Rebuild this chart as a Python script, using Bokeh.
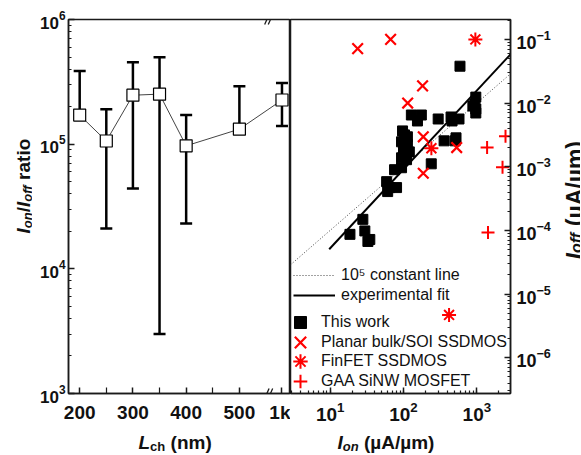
import math
from bokeh.plotting import figure
from bokeh.models import (FixedTicker, LogTicker, Range1d, Label, Legend, LegendItem)
from bokeh.layouts import row, column
from bokeh.embed import file_html
from bokeh.resources import INLINE

FONT = "Liberation Sans"

# ---------------- left panel data : Ion/Ioff ratio vs channel length ----------------
lch_nm = [200, 250, 300, 350, 400, 500, 1000]
ratio = [1.71e5, 1.06e5, 2.47e5, 2.52e5, 9.7e4, 1.32e5, 2.26e5]
ratio_upper = [3.87e5, 1.91e5, 4.54e5, 4.98e5, 1.71e5, 2.92e5, 3.10e5]
ratio_lower = [None, 2.11e4, 4.40e4, 3.0e3, 2.31e4, None, 1.40e5]
lch_ticks = [200, 300, 400, 500, 1000]
lch_tick_labels = ["200", "300", "400", "500", "1k"]
lch_minor_ticks = [250, 350, 450]

# ---------------- right panel data : Ioff vs Ion ----------------
this_work_ion = [589, 968, 940, 968, 883, 968, 128, 175, 155, 297, 445, 459, 571, 358, 520, 505,
                 97, 103, 113, 94, 113, 100, 120, 94, 110, 239, 75.5, 94, 58.9, 64.7, 80.4, 60.8,
                 27.9, 18.6, 29.7, 34.7, 32.7]
this_work_ioff = [0.0379, 0.0124, 0.00964, 0.00806, 0.00897, 0.00698, 0.00649, 0.00649, 0.00523,
                  0.00562, 0.00604, 0.00523, 0.00562, 0.00255, 0.00284, 0.00255, 0.00365, 0.00316,
                  0.00295, 0.00246, 0.00221, 0.00184, 0.00171, 0.00138, 0.00129, 0.00111, 0.000898,
                  0.000964, 0.000583, 0.00047, 0.00047, 0.000407, 0.000149, 8.66e-5, 9.8e-5, 7.2e-5,
                  6.7e-5]
planar_ion = [23.7, 66.7, 182, 114, 186, 531, 186]
planar_ioff = [0.0716, 0.1, 0.0186, 0.01, 0.00295, 0.0020, 7.9e-4]
finfet_ion = [955, 240, 418]
finfet_ioff = [0.1, 0.00195, 4.7e-6]
gaa_ion = [2460, 1380, 2240, 1420]
gaa_ioff = [0.0030, 0.0020, 9.8e-4, 9.3e-5]
fit_ion = [9.7, 2877]
fit_ioff = [5.05e-5, 0.0583]
constant_ratio = 1e5
legend_labels = ["10\u2075 constant line", "experimental fit", "This work",
                 "Planar bulk/SOI SSDMOS", "FinFET SSDMOS", "GAA SiNW MOSFET"]

# ---------------- layout constants (page pixels) ----------------
FRAME_TOP, FRAME_BOTTOM = 19, 395
H_TOP = 425                 # height of the row holding the two panels
H_BOT = 29                  # height of the strip holding the x-axis titles
W_YLAB, W_P1, W_P2, W_RLAB = 32, 258, 263, 27
L_FRAME_LEFT = 68
R_FRAME_LEFT = W_YLAB + W_P1          # 290
R_FRAME_W = 222
BREAK_POS = 580            # axis position used for the 1k point after the break
BREAK_MARK = 555
AXC = "#1a1a1a"
RED = "#ff0000"

def lch_axis(v):
    return v if v <= 500 else BREAK_POS

def style_axis(ax, size="19px"):
    ax.axis_line_color = AXC
    ax.axis_line_width = 1.5
    ax.major_tick_line_color = AXC
    ax.minor_tick_line_color = AXC
    ax.major_tick_line_width = 1.5
    ax.minor_tick_line_width = 1.2
    ax.major_tick_in = 6
    ax.major_tick_out = 0
    ax.minor_tick_in = 3
    ax.minor_tick_out = 0
    ax.major_label_text_font = FONT
    ax.major_label_text_font_style = "bold"
    ax.major_label_text_font_size = size
    ax.major_label_text_color = "#111"
    ax.axis_label = None

def base_fig(width, xr, yr, **kw):
    p = figure(width=width, height=H_TOP, x_range=xr, y_range=yr, output_backend="svg",
               toolbar_location=None, min_border_top=FRAME_TOP,
               min_border_bottom=H_TOP - FRAME_BOTTOM, **kw)
    p.xgrid.grid_line_color = None
    p.ygrid.grid_line_color = None
    p.outline_line_color = AXC
    p.outline_line_width = 1.5
    p.background_fill_color = "white"
    p.border_fill_color = "white"
    return p

def text_fig(width, height):
    p = figure(width=width, height=height, x_range=Range1d(0, 1), y_range=Range1d(0, 1),
               output_backend="svg", toolbar_location=None, x_axis_location=None,
               y_axis_location=None, min_border_left=0, min_border_right=0,
               min_border_top=0, min_border_bottom=0)
    p.xgrid.grid_line_color = None
    p.ygrid.grid_line_color = None
    p.outline_line_color = None
    p.background_fill_color = "white"
    p.border_fill_color = "white"
    return p

AW = {' ': 278, '(': 333, ')': 333, '/': 278, 'A': 722, 'I': 278, 'L': 611, 'a': 556, 'c': 556,
      'f': 333, 'h': 611, 'i': 278, 'm': 889, 'n': 611, 'o': 611, 'r': 389, 't': 333, '\u00b5': 611}

def tw(s, size):
    return sum(AW.get(c, 556) for c in s) * size / 1000.0

def mk_label(p, x, y, text, size, style, angle=0):
    p.add_layout(Label(x=x, y=y, x_units="screen", y_units="screen", text=text,
                       angle=angle, angle_units="deg",
                       text_font=FONT, text_font_size=f"{size}px", text_font_style=style,
                       text_color="#111", text_align="left", text_baseline="alphabetic"))

def split_space(text, size):
    stripped = text.lstrip(" ")
    return stripped, tw(text[:len(text) - len(stripped)], size)

def label_h(p, ox, oy_bottom, x0, base, pieces):
    """horizontal multi-style title; page coords -> figure(ox, bottom oy_bottom)"""
    x = x0
    for text, size, style, dy in pieces:
        t, adv = split_space(text, size)
        x += adv
        mk_label(p, x - ox, oy_bottom - (base + dy), t, size, style)
        x += tw(t, size)

def label_v(p, ox, oy_bottom, basex, y0, pieces):
    """vertical (reading upwards) multi-style title"""
    y = y0
    for text, size, style, dy in pieces:
        t, adv = split_space(text, size)
        y -= adv
        mk_label(p, basex + dy - ox, oy_bottom - y, t, size, style, angle=90)
        y -= tw(t, size)

# ================= left figure =================
p1 = base_fig(W_P1, Range1d(179, 596), Range1d(1e3, 1e6), y_axis_type="log",
              min_border_left=L_FRAME_LEFT - W_YLAB, min_border_right=0)
xs = [lch_axis(v) for v in lch_nm]
p1.line(xs, ratio, line_color="#444", line_width=1)
p1.segment(xs, ratio, xs, ratio_upper, line_color="black", line_width=2.5)
lo_x = [x for x, lo in zip(xs, ratio_lower) if lo is not None]
lo_v = [lo for lo in ratio_lower if lo is not None]
lo_c = [r for r, lo in zip(ratio, ratio_lower) if lo is not None]
p1.segment(lo_x, lo_v, lo_x, lo_c, line_color="black", line_width=2.5)
p1.scatter(xs, ratio_upper, marker="dash", size=12, line_color="black", line_width=2.5)
p1.scatter(lo_x, lo_v, marker="dash", size=12, line_color="black", line_width=2.5)
p1.scatter(xs, ratio, marker="square", size=12, fill_color="white", line_color="black", line_width=1.2)

style_axis(p1.xaxis[0])
p1.xaxis[0].ticker = FixedTicker(ticks=[lch_axis(v) for v in lch_ticks],
                                 minor_ticks=lch_minor_ticks)
p1.xaxis[0].minor_tick_in = 6
p1.xaxis[0].major_label_overrides = {lch_axis(v): t for v, t in zip(lch_ticks, lch_tick_labels)}
p1.xaxis[0].major_label_standoff = 8
style_axis(p1.yaxis[0], size="17px")
p1.yaxis[0].ticker = LogTicker(num_minor_ticks=10)
p1.yaxis[0].major_label_standoff = 3

# axis-break marks "//" on the top and bottom axes
px_x = (596 - 179) / 222
dec_px = 3.0 / (FRAME_BOTTOM - FRAME_TOP)
bx0, bx1, by0, by1 = [], [], [], []
for edge in (1e3, 1e6):
    for off in (-1.8, 1.8):
        bx0.append(BREAK_MARK + (off - 2.2) * px_x)
        bx1.append(BREAK_MARK + (off + 2.2) * px_x)
        by0.append(edge * 10 ** (-5 * dec_px))
        by1.append(edge * 10 ** (5 * dec_px))
p1.segment(bx0, by0, bx1, by1, line_color=AXC, line_width=1.3)

# ================= right figure =================
x_lo, x_hi = 10 ** 0.459, 10 ** 3.459
p2 = base_fig(W_P2, Range1d(x_lo, x_hi), Range1d(10 ** -6.5625, 10 ** -0.6875),
              x_axis_type="log", y_axis_type="log", y_axis_location="right",
              min_border_left=0, min_border_right=W_P2 - R_FRAME_W)

const_ion = [x_lo, x_hi]
const_ioff = [v / constant_ratio for v in const_ion]
r_const = p2.line(const_ion, const_ioff, line_color="#444", line_width=1, line_dash="1 2")
r_fit = p2.line(fit_ion, fit_ioff, line_color="black", line_width=2)
r_this = p2.scatter(this_work_ion, this_work_ioff, marker="square", size=10, color="black")
r_planar = p2.scatter(planar_ion, planar_ioff, marker="x", size=15, line_color=RED, line_width=2.2)
r_fin = p2.scatter(finfet_ion, finfet_ioff, marker="asterisk", size=14, line_color=RED, line_width=2)
r_gaa = p2.scatter(gaa_ion, gaa_ioff, marker="cross", size=13, line_color=RED, line_width=2)

style_axis(p2.xaxis[0])
p2.xaxis[0].ticker = LogTicker(num_minor_ticks=10)
p2.xaxis[0].major_label_standoff = 8
style_axis(p2.yaxis[0], size="18px")
p2.yaxis[0].ticker = LogTicker(num_minor_ticks=10)
p2.yaxis[0].major_label_standoff = 6

def mk_legend(items, loc, gw, gh, standoff):
    lg = Legend(items=items, location=loc, padding=0, margin=0, spacing=0,
                glyph_width=gw, glyph_height=gh, label_height=20, label_standoff=standoff,
                background_fill_alpha=0, border_line_alpha=0,
                label_text_font=FONT, label_text_font_size="16px", label_text_color="#111")
    p2.add_layout(lg)

# line legend
mk_legend([LegendItem(label=legend_labels[0], renderers=[r_const]),
           LegendItem(label=legend_labels[1], renderers=[r_fit])],
          (293 - R_FRAME_LEFT, FRAME_BOTTOM - 307), 42, 20, 6)
# marker legends, one per row (separate boxes so each glyph can be drawn larger)
for lab, r, yc, gb in zip(legend_labels[2:], [r_this, r_planar, r_fin, r_gaa],
                          [324, 344, 363, 383], [30, 40, 36, 34]):
    hg = gb // 2
    mk_legend([LegendItem(label=lab, renderers=[r])],
              (300 - hg - R_FRAME_LEFT, FRAME_BOTTOM - (yc + hg)), gb, gb,
              321 - (300 + hg))

# ================= title strips =================
ylab = text_fig(W_YLAB, H_TOP)
label_v(ylab, 0, H_TOP, 23, 265, [("I", 19, "bold italic", 0), ("on", 13, "bold italic", 4),
                                  ("/", 19, "bold", 0), ("I", 19, "bold italic", 0),
                                  ("off", 13, "bold italic", 4), (" ratio", 19, "bold", 0)])
rlab_x0 = R_FRAME_LEFT + W_P2
rlab = text_fig(W_RLAB, H_TOP)
label_v(rlab, rlab_x0, H_TOP, 574, 291, [("I", 23, "bold italic", 0), ("off", 16, "bold italic", 2),
                                         (" (\u00b5A/\u00b5m)", 23, "bold", 0)])

xlab = text_fig(W_YLAB + W_P1 + W_P2 + W_RLAB, H_BOT)
label_h(xlab, 0, H_TOP + H_BOT, 138, 442, [("L", 19, "bold italic", 0), ("ch", 13, "bold", 4),
                                           (" (nm)", 19, "bold", 0)])
label_h(xlab, 0, H_TOP + H_BOT, 337, 442, [("I", 19, "bold italic", 0), ("on", 13, "bold italic", 4),
                                           (" (\u00b5A/\u00b5m)", 19, "bold", 0)])

layout = column(row(ylab, p1, p2, rlab), xlab)
open("out.html", "w").write(file_html(layout, INLINE))
